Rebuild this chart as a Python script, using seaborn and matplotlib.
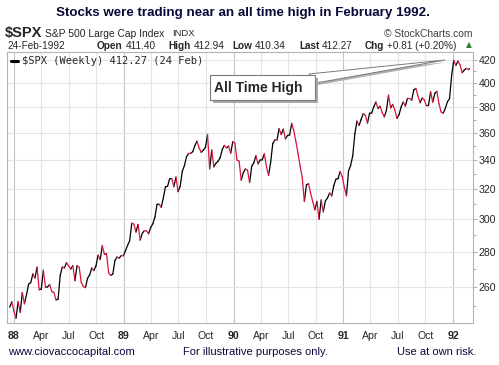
import pandas as pd
import numpy as np
import seaborn as sns
import matplotlib.pyplot as plt
from matplotlib.patches import Rectangle, Polygon
from matplotlib.lines import Line2D
from matplotlib.ticker import FixedLocator, FixedFormatter, NullFormatter

# weekly closes of $SPX (Dec 1987 - Feb 1992)
closes_1987 = [249.16, 252.03, 247.08]
closes_1988 = [243.40, 252.05, 246.50, 257.07, 250.96, 255.95, 261.61, 262.46,
               267.30, 264.94, 271.12, 258.51, 258.89, 269.43, 259.77, 260.14,
               261.33, 257.48, 257.13, 253.02, 253.42, 266.45, 271.26, 270.68,
               273.78, 271.78, 270.02, 272.05, 263.50, 272.02, 271.15, 262.55,
               260.24, 259.68, 264.88, 266.84, 270.65, 269.16, 271.91, 278.07,
               275.50, 283.66, 278.53, 279.06, 267.92, 266.47, 267.23, 274.93,
               277.03, 276.29, 277.87, 277.72]
closes_1989 = [280.67, 283.87, 286.63, 297.47, 296.97, 292.02, 296.76, 287.13,
               291.18, 292.88, 292.69, 290.91, 294.87, 297.16, 301.36, 309.61,
               309.64, 307.61, 313.84, 321.24, 321.59, 326.69, 326.95, 321.35,
               328.00, 317.98, 321.63, 331.84, 335.90, 342.15, 344.74, 344.71,
               346.03, 350.52, 353.73, 348.76, 345.46, 347.05, 349.15, 358.78,
               333.65, 347.16, 335.06, 337.62, 339.10, 341.61, 347.55, 350.63,
               348.69, 350.14, 344.78, 353.40]
closes_1990 = [352.20, 339.93, 339.15, 325.80, 330.92, 333.62, 332.72, 324.15,
               335.54, 337.93, 343.05, 337.22, 339.94, 340.08, 344.34, 335.12,
               329.11, 338.39, 352.00, 354.64, 354.58, 363.16, 358.71, 362.91,
               355.43, 358.02, 358.42, 367.31, 361.61, 353.44, 344.86, 335.52,
               327.83, 311.51, 322.56, 323.40, 316.83, 311.32, 306.05, 311.50,
               300.03, 312.48, 304.71, 311.85, 313.74, 317.12, 315.10, 322.22,
               326.44, 326.82, 331.75, 328.29]
closes_1991 = [321.00, 315.23, 332.23, 336.07, 343.05, 359.35, 369.06, 365.65,
               370.47, 374.95, 373.59, 367.48, 375.22, 375.36, 380.40, 384.20,
               379.02, 380.80, 375.74, 372.39, 377.49, 389.83, 379.43, 382.30,
               377.75, 371.16, 374.08, 380.25, 384.22, 380.93, 387.17, 387.12,
               385.58, 394.17, 395.43, 389.10, 383.59, 387.56, 385.90, 381.25,
               381.45, 392.80, 384.20, 391.32, 392.89, 382.62, 376.14, 375.22,
               379.10, 384.47, 387.04, 406.46]
closes_1992 = [419.34, 415.10, 418.86, 415.48, 408.79, 411.09, 412.48, 411.43, 412.27]

closes = closes_1987 + closes_1988 + closes_1989 + closes_1990 + closes_1991 + closes_1992
dates = list(pd.date_range("1987-12-18", periods=len(closes) - 1, freq="W-FRI")) + [pd.Timestamp("1992-02-24")]

y_ticks = [260, 280, 300, 320, 340, 360, 380, 400, 420]
x_tick_dates = pd.date_range("1988-01-01", "1992-01-01", freq="QS")
x_tick_labels = ["88", "Apr", "Jul", "Oct", "89", "Apr", "Jul", "Oct", "90", "Apr", "Jul", "Oct",
                 "91", "Apr", "Jul", "Oct", "92"]

# each weekly step is its own segment: black when up, red when down
rows = []
for i in range(1, len(closes)):
    d = "down" if closes[i] < closes[i - 1] else "up"
    rows.append({"seg": i, "date": dates[i - 1], "close": closes[i - 1], "dir": d})
    rows.append({"seg": i, "date": dates[i], "close": closes[i], "dir": d})
seg = pd.DataFrame(rows)

sns.set_style("white")
plt.rcParams["font.family"] = ["Liberation Sans", "DejaVu Sans"]

W, H = 499, 365
fig = plt.figure(figsize=(W / 100, H / 100), dpi=100)


def fx(x):
    return x / W


def fy(y):
    return 1 - y / H


ax = fig.add_axes([fx(7), fy(323), fx(473) - fx(7), fy(52) - fy(323)])
sns.lineplot(data=seg, x="date", y="close", hue="dir", units="seg", estimator=None,
             palette={"up": "#000000", "down": "#dc143c"}, legend=False, lw=0.9, ax=ax)

ax.set_yscale("log")
ax.set_ylim(241, 427)
ax.set_xlim(pd.Timestamp("1987-12-09"), pd.Timestamp("1992-03-07"))
ax.yaxis.set_major_locator(FixedLocator(y_ticks))
ax.yaxis.set_major_formatter(FixedFormatter([str(v) for v in y_ticks]))
ax.yaxis.set_minor_locator(FixedLocator([250, 270, 290, 310, 330, 350, 370, 390, 410]))
ax.yaxis.set_minor_formatter(NullFormatter())
ax.yaxis.tick_right()
ax.set_xticks(x_tick_dates)
ax.set_xticklabels(x_tick_labels)
ax.set_xlabel("")
ax.set_ylabel("")

ax.tick_params(axis="y", which="major", length=3, width=0.6, color="#a0a0a0", pad=1, labelsize=7.6)
ax.tick_params(axis="y", which="minor", length=2, width=0.6, color="#a0a0a0")
ax.tick_params(axis="x", length=3, width=0.6, color="#a0a0a0", pad=3, labelsize=7.6)
for lab in ax.get_xticklabels():
    if lab.get_text().isdigit():
        lab.set_fontweight("bold")

ax.grid(True, which="major", color="#e4e4e4", lw=0.8)
for gl, lab in zip(ax.xaxis.get_gridlines(), x_tick_labels):
    if lab.isdigit():
        gl.set_color("#c4c4c4")
for sp in ax.spines.values():
    sp.set_color("#b4b4b4")
    sp.set_linewidth(0.8)

# legend line inside the plot
ax.add_line(Line2D([0.008, 0.024], [0.965, 0.965], transform=ax.transAxes, color="black", lw=2.2))
ax.text(0.032, 0.965, "$SPX (Weekly) 412.27 (24 Feb)", transform=ax.transAxes, va="center",
        ha="left", fontsize=7.5, family=["DejaVu Sans Mono"])

# titles and header
fig.text(fx(243), fy(13), "Stocks were trading near an all time high in February 1992.",
         ha="center", va="center", fontsize=9.6, fontweight="bold", color="#0a0a3a")
fig.text(fx(5), fy(33), "$SPX", ha="left", va="center", fontsize=10.5, fontweight="bold")
fig.text(fx(45), fy(34), "S&P 500 Large Cap Index", ha="left", va="center", fontsize=7.4)
fig.text(fx(172), fy(34), "INDX", ha="left", va="center", fontsize=6.8)
fig.text(fx(472), fy(34), "© StockCharts.com", ha="right", va="center", fontsize=7.4, color="#404040")
fig.text(fx(7), fy(46), "24-Feb-1992", ha="left", va="center", fontsize=7.2)

# quote line: bold label followed by its value
header = [(97, "Open", "411.40"), (168, "High", "412.94"), (232, "Low", "410.34"),
          (299, "Last", "412.27"), (365, "Chg", "+0.81 (+0.20%)")]
renderer = fig.canvas.get_renderer()
for x, name, val in header:
    t = fig.text(fx(x), fy(46), name, ha="left", va="center", fontsize=7.2, fontweight="bold")
    x_end = t.get_window_extent(renderer).x1
    fig.text((x_end + 3) / W, fy(46), val, ha="left", va="center", fontsize=7.2)
fig.text(fx(469), fy(45), "▲", ha="center", va="center", fontsize=5.5, color="#2e7d32",
         family=["DejaVu Sans"])

# callout "All Time High"
tf = fig.transFigure
fig.add_artist(Polygon([(fx(311), fy(76)), (fx(447), fy(62)), (fx(318), fy(85))], closed=True,
                       facecolor="#b0b0b0", edgecolor="none", transform=tf, zorder=5))
fig.add_artist(Polygon([(fx(309), fy(74)), (fx(445), fy(60)), (fx(316), fy(83))], closed=True,
                       facecolor="white", edgecolor="#7a7a7a", lw=0.7, transform=tf, zorder=6))
fig.add_artist(Rectangle((fx(213), fy(103)), fx(105), fy(78) - fy(103), facecolor="#a8a8a8",
                         edgecolor="none", transform=tf, zorder=7))
fig.add_artist(Rectangle((fx(210), fy(100)), fx(105), fy(75) - fy(100), facecolor="white",
                         edgecolor="#7a7a7a", lw=0.8, transform=tf, zorder=8))
fig.text(fx(214), fy(88), "All Time High", ha="left", va="center", fontsize=10,
         fontweight="bold", zorder=9)

# footer
fig.text(fx(8), fy(352), "www.ciovaccocapital.com", ha="left", va="center", fontsize=8, color="#0a0a3a")
fig.text(fx(183), fy(352), "For illustrative purposes only.", ha="left", va="center", fontsize=8,
         color="#0a0a3a")
fig.text(fx(476), fy(352), "Use at own risk.", ha="right", va="center", fontsize=8, color="#0a0a3a")

fig.savefig("out.png", dpi=100)
